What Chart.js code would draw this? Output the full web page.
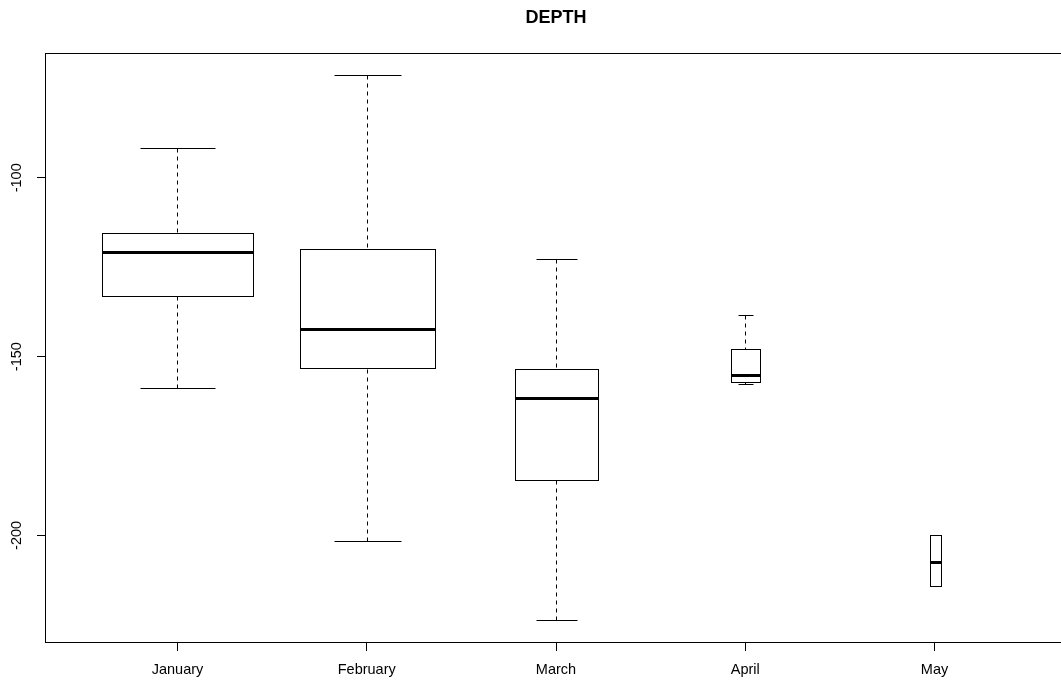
<!DOCTYPE html>
<html>
<head>
<meta charset="utf-8">
<title>DEPTH</title>
<script src="https://cdn.jsdelivr.net/npm/chart.js@4.4.1/dist/chart.umd.min.js"></script>
<style>
  html, body { margin: 0; padding: 0; background: #fff; overflow: hidden; }
  #wrap { width: 1061px; height: 680px; overflow: hidden; }
  canvas { display: block; }
</style>
</head>
<body>
<div id="wrap"><canvas id="chartDepth" width="1075" height="680"></canvas></div>
<script>
// Monthly depth summaries (five-number summary per month + sample size)
const months = ['January', 'February', 'March', 'April', 'May'];
const whiskerHigh = [-91.7, -71.2, -122.7, -138.3, -200.0];
const upperQuartile = [-115.4, -119.8, -153.4, -148.0, -200.0];
const medians = [-120.7, -142.4, -161.5, -155.0, -207.3];
const lowerQuartile = [-133.0, -153.2, -184.4, -157.1, -214.2];
const whiskerLow = [-158.7, -201.6, -223.7, -157.6, -214.2];
const counts = [425, 342, 126, 15, 2];
const yTicks = [-100, -150, -200];

const FONT = "'Liberation Sans', Arial, sans-serif";

// y limits: data range stretched by 4% each side
const yMinData = Math.min(...whiskerLow);
const yMaxData = Math.max(...whiskerHigh);
const yPad = (yMaxData - yMinData) * 0.04;

const crisp = v => Math.round(v) + 0.5;

function hLine(ctx, x1, x2, y) {
  ctx.beginPath();
  ctx.moveTo(x1, y);
  ctx.lineTo(x2, y);
  ctx.stroke();
}

// boxes, whiskers, frame, y labels and title
const boxPlot = {
  id: 'boxPlot',
  afterDraw(chart) {
    const { ctx, chartArea, scales: { x, y } } = chart;
    const unit = x.getPixelForValue(1) - x.getPixelForValue(0);
    const maxN = Math.max(...counts);
    ctx.save();
    ctx.strokeStyle = '#000';
    ctx.fillStyle = '#000';

    months.forEach((m, i) => {
      const cx = crisp(x.getPixelForValue(i + 1));
      const half = 0.4 * Math.sqrt(counts[i] / maxN) * unit;
      const left = Math.round(cx - half) + 0.5;
      const right = Math.round(cx + half) + 0.5;
      const yHi = crisp(y.getPixelForValue(whiskerHigh[i]));
      const yQ3 = crisp(y.getPixelForValue(upperQuartile[i]));
      const yMed = Math.round(y.getPixelForValue(medians[i])) + 0.5;
      const yQ1 = crisp(y.getPixelForValue(lowerQuartile[i]));
      const yLo = crisp(y.getPixelForValue(whiskerLow[i]));

      // whiskers
      ctx.lineWidth = 1;
      ctx.setLineDash([4, 4]);
      ctx.beginPath();
      ctx.moveTo(cx, yHi); ctx.lineTo(cx, yQ3);
      ctx.moveTo(cx, yLo); ctx.lineTo(cx, yQ1);
      ctx.stroke();
      ctx.setLineDash([]);

      // staples
      const cap = half / 2;
      hLine(ctx, Math.round(cx - cap) + 0.5, Math.round(cx + cap) + 0.5, yHi);
      hLine(ctx, Math.round(cx - cap) + 0.5, Math.round(cx + cap) + 0.5, yLo);

      // box
      ctx.strokeRect(left, yQ3, right - left, yQ1 - yQ3);

      // median
      ctx.lineWidth = 3;
      hLine(ctx, left, right, yMed);
    });

    // frame
    ctx.lineWidth = 1;
    ctx.strokeRect(crisp(chartArea.left), crisp(chartArea.top),
      Math.round(chartArea.right - chartArea.left), Math.round(chartArea.bottom - chartArea.top));

    // rotated y tick labels
    ctx.font = '14.5px ' + FONT;
    ctx.textAlign = 'center';
    ctx.textBaseline = 'middle';
    yTicks.forEach(t => {
      ctx.save();
      ctx.translate(17, y.getPixelForValue(t));
      ctx.rotate(-Math.PI / 2);
      ctx.fillText(String(t), 0, 0);
      ctx.restore();
    });

    // title
    ctx.font = 'bold 18px ' + FONT;
    ctx.fillText('DEPTH', (chartArea.left + chartArea.right) / 2, 18);
    ctx.restore();
  }
};

const ctx = document.getElementById('chartDepth').getContext('2d');
new Chart(ctx, {
  type: 'scatter',
  data: {
    datasets: [{
      label: 'Median',
      data: medians.map((v, i) => ({ x: i + 1, y: v })),
      pointRadius: 0,
      showLine: false
    }]
  },
  options: {
    responsive: false,
    animation: false,
    devicePixelRatio: 1,
    layout: { padding: { top: 53, right: 8, left: 0, bottom: 0 } },
    plugins: {
      legend: { display: false },
      tooltip: { enabled: false }
    },
    scales: {
      x: {
        type: 'linear',
        min: 0.3,
        max: 5.7,
        afterBuildTicks: s => { s.ticks = months.map((m, i) => ({ value: i + 1 })); },
        afterFit: s => { s.height = 38; },
        ticks: {
          autoSkip: false,
          maxRotation: 0,
          minRotation: 0,
          padding: 10,
          color: '#000',
          font: { family: FONT, size: 14.5 },
          callback: v => months[v - 1]
        },
        grid: { drawOnChartArea: false, drawTicks: true, tickLength: 9, color: '#000' },
        border: { display: false }
      },
      y: {
        type: 'linear',
        min: yMinData - yPad,
        max: yMaxData + yPad,
        afterBuildTicks: s => { s.ticks = yTicks.map(v => ({ value: v })); },
        afterFit: s => { s.width = 45; },
        ticks: { display: false },
        grid: { drawOnChartArea: false, drawTicks: true, tickLength: 8, color: '#000' },
        border: { display: false }
      }
    }
  },
  plugins: [boxPlot]
});
</script>
</body>
</html>
